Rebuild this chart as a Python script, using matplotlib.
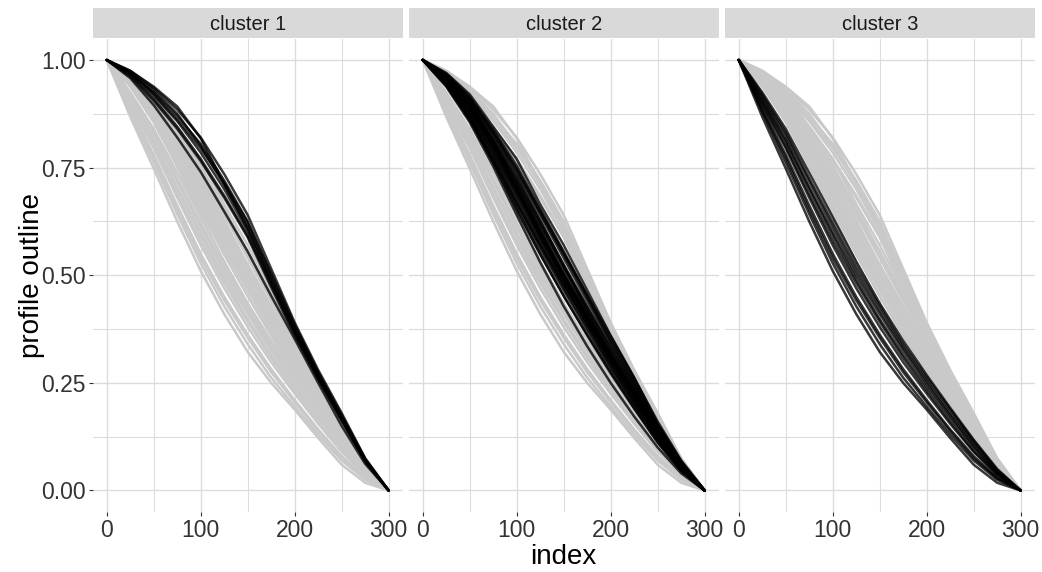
import matplotlib
matplotlib.use('Agg')

import numpy as np
import matplotlib.pyplot as plt
from matplotlib.ticker import MultipleLocator

plt.rcParams['font.family'] = ['Liberation Sans', 'DejaVu Sans']

# sample positions along the outline
index = [0, 25, 50, 75, 100, 125, 150, 175, 200, 225, 250, 275, 300]

# cluster 1 profiles
c1_1 = [1.000, 0.975, 0.935, 0.885, 0.820, 0.735, 0.640, 0.515, 0.390, 0.280, 0.180, 0.075, 0]
c1_2 = [1.000, 0.970, 0.925, 0.870, 0.805, 0.720, 0.625, 0.500, 0.380, 0.272, 0.172, 0.072, 0]
c1_3 = [1.000, 0.958, 0.895, 0.820, 0.740, 0.648, 0.555, 0.452, 0.352, 0.250, 0.150, 0.062, 0]
c1_4 = [1.000, 0.972, 0.930, 0.875, 0.800, 0.710, 0.612, 0.492, 0.375, 0.268, 0.168, 0.070, 0]
c1_5 = [1.000, 0.968, 0.918, 0.858, 0.785, 0.700, 0.602, 0.482, 0.368, 0.262, 0.165, 0.068, 0]
c1_6 = [1.000, 0.975, 0.938, 0.892, 0.818, 0.712, 0.608, 0.488, 0.372, 0.265, 0.165, 0.068, 0]
c1_7 = [1.000, 0.965, 0.910, 0.845, 0.770, 0.685, 0.592, 0.478, 0.365, 0.262, 0.165, 0.070, 0]
c1_8 = [1.000, 0.970, 0.922, 0.862, 0.795, 0.715, 0.622, 0.505, 0.385, 0.275, 0.175, 0.074, 0]
c1_9 = [1.000, 0.962, 0.905, 0.840, 0.765, 0.680, 0.588, 0.472, 0.360, 0.258, 0.162, 0.068, 0]

# cluster 2 profiles
c2_01 = [1, 0.970, 0.920, 0.845, 0.770, 0.665, 0.570, 0.465, 0.360, 0.262, 0.155, 0.068, 0]
c2_02 = [1, 0.965, 0.910, 0.830, 0.745, 0.645, 0.548, 0.448, 0.345, 0.250, 0.150, 0.065, 0]
c2_03 = [1, 0.960, 0.900, 0.815, 0.725, 0.625, 0.525, 0.428, 0.330, 0.238, 0.142, 0.060, 0]
c2_04 = [1, 0.955, 0.890, 0.800, 0.705, 0.605, 0.505, 0.410, 0.315, 0.225, 0.135, 0.058, 0]
c2_05 = [1, 0.950, 0.880, 0.790, 0.690, 0.588, 0.490, 0.395, 0.302, 0.215, 0.128, 0.055, 0]
c2_06 = [1, 0.945, 0.870, 0.775, 0.670, 0.568, 0.470, 0.378, 0.288, 0.202, 0.120, 0.050, 0]
c2_07 = [1, 0.958, 0.895, 0.805, 0.700, 0.590, 0.490, 0.400, 0.312, 0.228, 0.140, 0.060, 0]
c2_08 = [1, 0.962, 0.905, 0.822, 0.730, 0.628, 0.522, 0.418, 0.318, 0.228, 0.138, 0.058, 0]
c2_09 = [1, 0.948, 0.875, 0.785, 0.685, 0.582, 0.482, 0.385, 0.292, 0.205, 0.122, 0.050, 0]
c2_10 = [1, 0.940, 0.860, 0.760, 0.650, 0.548, 0.452, 0.362, 0.275, 0.192, 0.112, 0.046, 0]
c2_11 = [1, 0.968, 0.915, 0.838, 0.755, 0.655, 0.555, 0.452, 0.350, 0.255, 0.152, 0.066, 0]
c2_12 = [1, 0.952, 0.885, 0.795, 0.695, 0.598, 0.502, 0.408, 0.318, 0.232, 0.145, 0.062, 0]
c2_13 = [1, 0.944, 0.865, 0.768, 0.662, 0.560, 0.465, 0.372, 0.282, 0.198, 0.118, 0.048, 0]
c2_14 = [1, 0.956, 0.892, 0.808, 0.715, 0.615, 0.515, 0.418, 0.322, 0.232, 0.140, 0.060, 0]
c2_15 = [1, 0.962, 0.902, 0.812, 0.712, 0.605, 0.500, 0.398, 0.302, 0.212, 0.125, 0.052, 0]
c2_16 = [1, 0.938, 0.855, 0.752, 0.640, 0.530, 0.428, 0.335, 0.250, 0.172, 0.100, 0.040, 0]
c2_17 = [1, 0.966, 0.912, 0.835, 0.748, 0.650, 0.552, 0.455, 0.358, 0.262, 0.160, 0.070, 0]
c2_18 = [1, 0.950, 0.878, 0.782, 0.678, 0.575, 0.478, 0.385, 0.295, 0.210, 0.128, 0.054, 0]
c2_19 = [1, 0.954, 0.888, 0.800, 0.702, 0.600, 0.500, 0.405, 0.312, 0.222, 0.134, 0.056, 0]
c2_20 = [1, 0.946, 0.868, 0.770, 0.668, 0.570, 0.478, 0.390, 0.305, 0.222, 0.138, 0.060, 0]
c2_21 = [1, 0.960, 0.898, 0.812, 0.718, 0.618, 0.520, 0.425, 0.332, 0.242, 0.148, 0.064, 0]
c2_22 = [1, 0.942, 0.862, 0.762, 0.655, 0.550, 0.452, 0.360, 0.272, 0.190, 0.112, 0.045, 0]
c2_23 = [1, 0.958, 0.892, 0.800, 0.698, 0.592, 0.492, 0.398, 0.308, 0.222, 0.136, 0.058, 0]
c2_24 = [1, 0.964, 0.908, 0.828, 0.738, 0.640, 0.540, 0.440, 0.340, 0.245, 0.148, 0.062, 0]

# cluster 3 profiles
c3_01 = [1, 0.925, 0.840, 0.738, 0.635, 0.532, 0.435, 0.348, 0.268, 0.192, 0.118, 0.050, 0]
c3_02 = [1, 0.915, 0.825, 0.718, 0.612, 0.510, 0.418, 0.332, 0.255, 0.180, 0.110, 0.045, 0]
c3_03 = [1, 0.905, 0.810, 0.700, 0.592, 0.490, 0.398, 0.315, 0.240, 0.168, 0.100, 0.040, 0]
c3_04 = [1, 0.895, 0.795, 0.680, 0.570, 0.470, 0.380, 0.298, 0.225, 0.155, 0.090, 0.035, 0]
c3_05 = [1, 0.888, 0.780, 0.662, 0.550, 0.450, 0.362, 0.282, 0.210, 0.142, 0.080, 0.030, 0]
c3_06 = [1, 0.878, 0.762, 0.642, 0.528, 0.428, 0.340, 0.262, 0.195, 0.130, 0.070, 0.025, 0]
c3_07 = [1, 0.868, 0.748, 0.625, 0.510, 0.410, 0.322, 0.250, 0.188, 0.122, 0.060, 0.018, 0]
c3_08 = [1, 0.920, 0.832, 0.725, 0.622, 0.520, 0.428, 0.340, 0.262, 0.188, 0.115, 0.048, 0]
c3_09 = [1, 0.900, 0.800, 0.688, 0.580, 0.482, 0.392, 0.308, 0.232, 0.160, 0.092, 0.038, 0]
c3_10 = [1, 0.882, 0.772, 0.652, 0.540, 0.442, 0.355, 0.275, 0.205, 0.138, 0.075, 0.028, 0]
c3_11 = [1, 0.910, 0.815, 0.705, 0.600, 0.500, 0.410, 0.325, 0.248, 0.175, 0.104, 0.042, 0]

cluster1 = [c1_1, c1_2, c1_3, c1_4, c1_5, c1_6, c1_7, c1_8, c1_9]
cluster2 = [c2_01, c2_02, c2_03, c2_04, c2_05, c2_06, c2_07, c2_08, c2_09, c2_10, c2_11, c2_12,
            c2_13, c2_14, c2_15, c2_16, c2_17, c2_18, c2_19, c2_20, c2_21, c2_22, c2_23, c2_24]
cluster3 = [c3_01, c3_02, c3_03, c3_04, c3_05, c3_06, c3_07, c3_08, c3_09, c3_10, c3_11]

clusters = [cluster1, cluster2, cluster3]
panel_titles = ['cluster 1', 'cluster 2', 'cluster 3']


def plot_profiles():
    W, H = 1042, 572
    fig = plt.figure(figsize=[W / 100, H / 100], dpi=100)

    left0 = 92.7
    pw = 310.0
    step = 316.0
    top = 38.5
    bottom = 512.0
    strip_top = 8.3

    for k, title in enumerate(panel_titles):
        x0 = left0 + k * step
        ax = fig.add_axes([x0 / W, 1 - bottom / H, pw / W, (bottom - top) / H])

        # all profiles of the other clusters in grey, this cluster on top
        for j, cl in enumerate(clusters):
            if j == k:
                continue
            for prof in cl:
                ax.plot(index, prof, color='#C9C9C9', lw=1.8, solid_joinstyle='round',
                        solid_capstyle='round', zorder=2)
        for prof in clusters[k]:
            ax.plot(index, prof, color='black', alpha=0.78, lw=1.8, solid_joinstyle='round',
                    solid_capstyle='round', zorder=3)

        ax.set_xlim(-15, 315)
        ax.set_ylim(-0.05, 1.05)
        ax.xaxis.set_major_locator(MultipleLocator(100))
        ax.xaxis.set_minor_locator(MultipleLocator(50))
        ax.yaxis.set_major_locator(MultipleLocator(0.25))
        ax.yaxis.set_minor_locator(MultipleLocator(0.125))
        ax.grid(which='major', color='#DCDCDC', lw=1.0, zorder=0)
        ax.grid(which='minor', color='#DCDCDC', lw=0.8, zorder=0)
        ax.set_axisbelow(True)
        for s in ax.spines.values():
            s.set_visible(False)
        ax.tick_params(which='major', length=3, width=0.8, color='#333333',
                       labelsize=16.5, labelcolor='#333333', pad=2)
        ax.tick_params(which='minor', length=0)
        ax.xaxis.set_major_formatter(plt.FuncFormatter(lambda v, p: '%d' % v))
        if k == 0:
            ax.yaxis.set_major_formatter(plt.FuncFormatter(lambda v, p: '%.2f' % v))
        else:
            ax.tick_params(axis='y', which='both', left=False, labelleft=False)

        # facet strip
        sx = fig.add_axes([x0 / W, 1 - 37.5 / H, pw / W, (37.5 - strip_top) / H])
        sx.set_facecolor('#D9D9D9')
        sx.set_xticks([])
        sx.set_yticks([])
        for s in sx.spines.values():
            s.set_visible(False)
        sx.text(0.5, 0.45, title, ha='center', va='center', fontsize=14.5,
                color='#1A1A1A', transform=sx.transAxes)

    mid = (left0 + 2 * step + pw + left0) / 2
    fig.text(mid / W, 1 - 557 / H, 'index', ha='center', va='center', fontsize=20, color='black')
    fig.text(32 / W, 1 - 275 / H, 'profile outline', ha='center', va='center',
             rotation=90, fontsize=20, color='black')

    fig.savefig('out.png', format='png', dpi=100)


if __name__ == '__main__':
    plot_profiles()
